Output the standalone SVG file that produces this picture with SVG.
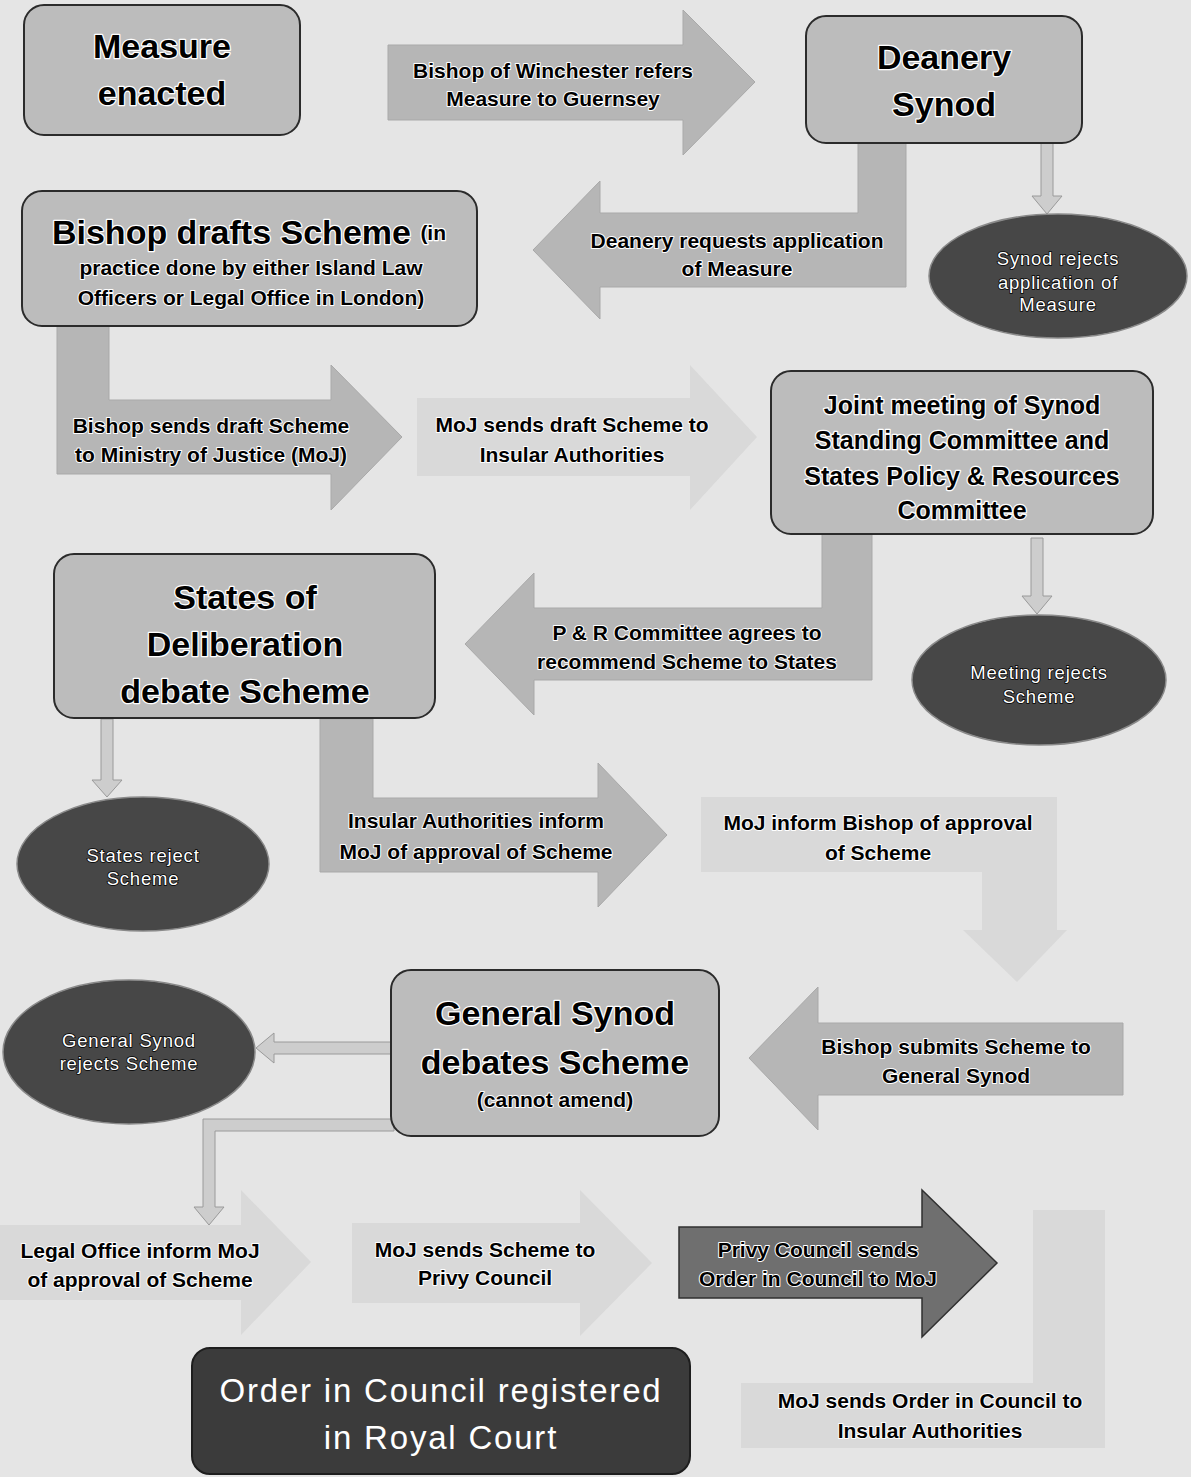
<svg xmlns="http://www.w3.org/2000/svg" width="1191" height="1477" viewBox="0 0 1191 1477">
<style>
.bg{fill:#e5e5e5}
.box{fill:#bcbcbc;stroke:#2b2b2b;stroke-width:2}
.blk{fill:#b6b6b6;stroke:#a9a9a9;stroke-width:1}
.faint{fill:#d9d9d9;stroke:none}
.thin{fill:#cdcdcd;stroke:#9a9a9a;stroke-width:1}
.ell{fill:#474747;stroke:#8a8a8a;stroke-width:1.5}
.dark{fill:#3b3b3b;stroke:#1e1e1e;stroke-width:2}
.darr{fill:#6f6f6f;stroke:#303030;stroke-width:1.5}
text{font-family:"Liberation Sans",Arial,sans-serif;text-anchor:middle;dominant-baseline:central}
.h{font-size:34px;font-weight:bold;fill:#000;stroke:#fff;stroke-width:2.5;paint-order:stroke;stroke-linejoin:round}
.m{font-size:25px;font-weight:bold;fill:#000;stroke:#fff;stroke-width:2.5;paint-order:stroke;stroke-linejoin:round}
.s{font-size:21px;font-weight:bold;fill:#000;stroke:#fff;stroke-width:2;paint-order:stroke;stroke-linejoin:round}
.e{font-size:18.5px;fill:#fff;letter-spacing:0.8px;stroke:#000;stroke-width:1.5;paint-order:stroke}
.o{font-size:33px;fill:#fff;letter-spacing:1.8px}
</style>
<rect class="bg" x="0" y="0" width="1191" height="1477"/>

<g id="connectors">
  <g id="arrow-refers">
    <path class="blk" d="M388,45 H683 V10 L755,82 L683,155 V120 H388 Z"/>
    <text class="s" x="553" y="70">Bishop of Winchester refers</text>
    <text class="s" x="553" y="98">Measure to Guernsey</text>
  </g>
  <g id="arrow-deanery-requests">
    <path class="blk" d="M858,143 H906 V287 H600 V319 L533,250 L600,181 V213 H858 Z"/>
    <text class="s" x="737" y="240">Deanery requests application</text>
    <text class="s" x="737" y="268">of Measure</text>
  </g>
  <path id="arrow-synod-rejects" class="thin" d="M1041,143 H1053 V196 H1062 L1047,214 L1032,196 H1041 Z"/>
  <g id="arrow-bishop-sends">
    <path class="blk" d="M57,325 H109 V400 H331 V365 L402,437 L331,510 V474 H57 Z"/>
    <text class="s" x="211" y="425">Bishop sends draft Scheme</text>
    <text class="s" x="211" y="454">to Ministry of Justice (MoJ)</text>
  </g>
  <g id="arrow-moj-sends-draft">
    <path class="faint" d="M417,398 H690 V365 L757,437 L690,510 V476 H417 Z"/>
    <text class="s" x="572" y="424">MoJ sends draft Scheme to</text>
    <text class="s" x="572" y="454">Insular Authorities</text>
  </g>
  <g id="arrow-pr-agrees">
    <path class="blk" d="M822,533 H872 V680 H534 V715 L465,644 L534,573 V608 H822 Z"/>
    <text class="s" x="687" y="632">P &amp; R Committee agrees to</text>
    <text class="s" x="687" y="661">recommend Scheme to States</text>
  </g>
  <path id="arrow-meeting-rejects" class="thin" d="M1031,538 H1043 V596 H1052 L1037,614 L1022,596 H1031 Z"/>
  <path id="arrow-states-reject" class="thin" d="M101,719 H113 V780 H122 L107,797 L92,780 H101 Z"/>
  <g id="arrow-insular-inform">
    <path class="blk" d="M320,719 H373 V798 H598 V763 L667,835 L598,907 V872 H320 Z"/>
    <text class="s" x="476" y="820">Insular Authorities inform</text>
    <text class="s" x="476" y="851">MoJ of approval of Scheme</text>
  </g>
  <g id="arrow-moj-inform-bishop">
    <path class="faint" d="M701,797 H1057 V930 H1067 L1017,982 L963,930 H982 V872 H701 Z"/>
    <text class="s" x="878" y="822">MoJ inform Bishop of approval</text>
    <text class="s" x="878" y="852">of Scheme</text>
  </g>
  <g id="arrow-bishop-submits">
    <path class="blk" d="M1123,1023 H818 V987 L749,1058 L818,1130 V1095 H1123 Z"/>
    <text class="s" x="956" y="1046">Bishop submits Scheme to</text>
    <text class="s" x="956" y="1075">General Synod</text>
  </g>
  <path id="arrow-gs-rejects" class="thin" d="M392,1042 V1054 H274 V1063 L256,1048 L274,1033 V1042 Z"/>
  <path id="arrow-gs-approves" class="thin" d="M394,1119 V1131 H215 V1207 H224 L209,1225 L194,1207 H203 V1119 Z"/>
  <g id="arrow-legal-office">
    <path class="faint" d="M0,1225 H241 V1190 L311,1262 L241,1335 V1300 H0 Z"/>
    <text class="s" x="140" y="1250">Legal Office inform MoJ</text>
    <text class="s" x="140" y="1279">of approval of Scheme</text>
  </g>
  <g id="arrow-moj-privy">
    <path class="faint" d="M352,1223 H580 V1190 L652,1263 L580,1336 V1303 H352 Z"/>
    <text class="s" x="485" y="1249">MoJ sends Scheme to</text>
    <text class="s" x="485" y="1277">Privy Council</text>
  </g>
  <g id="arrow-privy-sends">
    <path class="darr" d="M679,1227 H922 V1190 L997,1263 L922,1337 V1298 H679 Z"/>
    <text class="s" x="818" y="1249">Privy Council sends</text>
    <text class="s" x="818" y="1278">Order in Council to MoJ</text>
  </g>
  <g id="arrow-moj-order">
    <path class="faint" d="M1033,1210 H1105 V1448 H741 V1383 H1033 Z"/>
    <text class="s" x="930" y="1400">MoJ sends Order in Council to</text>
    <text class="s" x="930" y="1430">Insular Authorities</text>
  </g>
</g>

<g id="measure-enacted">
  <rect class="box" x="24" y="5" width="276" height="130" rx="20"/>
  <text class="h" x="162" y="46">Measure</text>
  <text class="h" x="162" y="93">enacted</text>
</g>
<g id="deanery-synod">
  <rect class="box" x="806" y="16" width="276" height="127" rx="20"/>
  <text class="h" x="944" y="57">Deanery</text>
  <text class="h" x="944" y="104">Synod</text>
</g>
<g id="synod-rejects">
  <ellipse class="ell" cx="1058" cy="276" rx="129" ry="62"/>
  <text class="e" x="1058" y="258">Synod rejects</text>
  <text class="e" x="1058" y="282">application of</text>
  <text class="e" x="1058" y="304">Measure</text>
</g>
<g id="bishop-drafts">
  <rect class="box" x="22" y="191" width="455" height="135" rx="20"/>
  <text class="h" x="249" y="232">Bishop drafts Scheme <tspan style="font-size:21px">(in</tspan></text>
  <text class="s" x="251" y="267">practice done by either Island Law</text>
  <text class="s" x="251" y="297">Officers or Legal Office in London)</text>
</g>
<g id="joint-meeting">
  <rect class="box" x="771" y="371" width="382" height="163" rx="20"/>
  <text class="m" x="962" y="405">Joint meeting of Synod</text>
  <text class="m" x="962" y="440">Standing Committee and</text>
  <text class="m" x="962" y="476">States Policy &amp; Resources</text>
  <text class="m" x="962" y="510">Committee</text>
</g>
<g id="meeting-rejects">
  <ellipse class="ell" cx="1039" cy="680" rx="127" ry="65"/>
  <text class="e" x="1039" y="672">Meeting rejects</text>
  <text class="e" x="1039" y="696">Scheme</text>
</g>
<g id="states-deliberation">
  <rect class="box" x="54" y="554" width="381" height="164" rx="20"/>
  <text class="h" x="245" y="597">States of</text>
  <text class="h" x="245" y="644">Deliberation</text>
  <text class="h" x="245" y="691">debate Scheme</text>
</g>
<g id="states-reject">
  <ellipse class="ell" cx="143" cy="864" rx="126" ry="67"/>
  <text class="e" x="143" y="855">States reject</text>
  <text class="e" x="143" y="878">Scheme</text>
</g>
<g id="general-synod">
  <rect class="box" x="391" y="970" width="328" height="166" rx="20"/>
  <text class="h" x="555" y="1013">General Synod</text>
  <text class="h" x="555" y="1062">debates Scheme</text>
  <text class="s" x="555" y="1099">(cannot amend)</text>
</g>
<g id="general-synod-rejects">
  <ellipse class="ell" cx="129" cy="1052" rx="126" ry="72"/>
  <text class="e" x="129" y="1040">General Synod</text>
  <text class="e" x="129" y="1063">rejects Scheme</text>
</g>
<g id="order-registered">
  <rect class="dark" x="192" y="1348" width="498" height="126" rx="18"/>
  <text class="o" x="441" y="1390">Order in Council registered</text>
  <text class="o" x="441" y="1437">in Royal Court</text>
</g>
</svg>
